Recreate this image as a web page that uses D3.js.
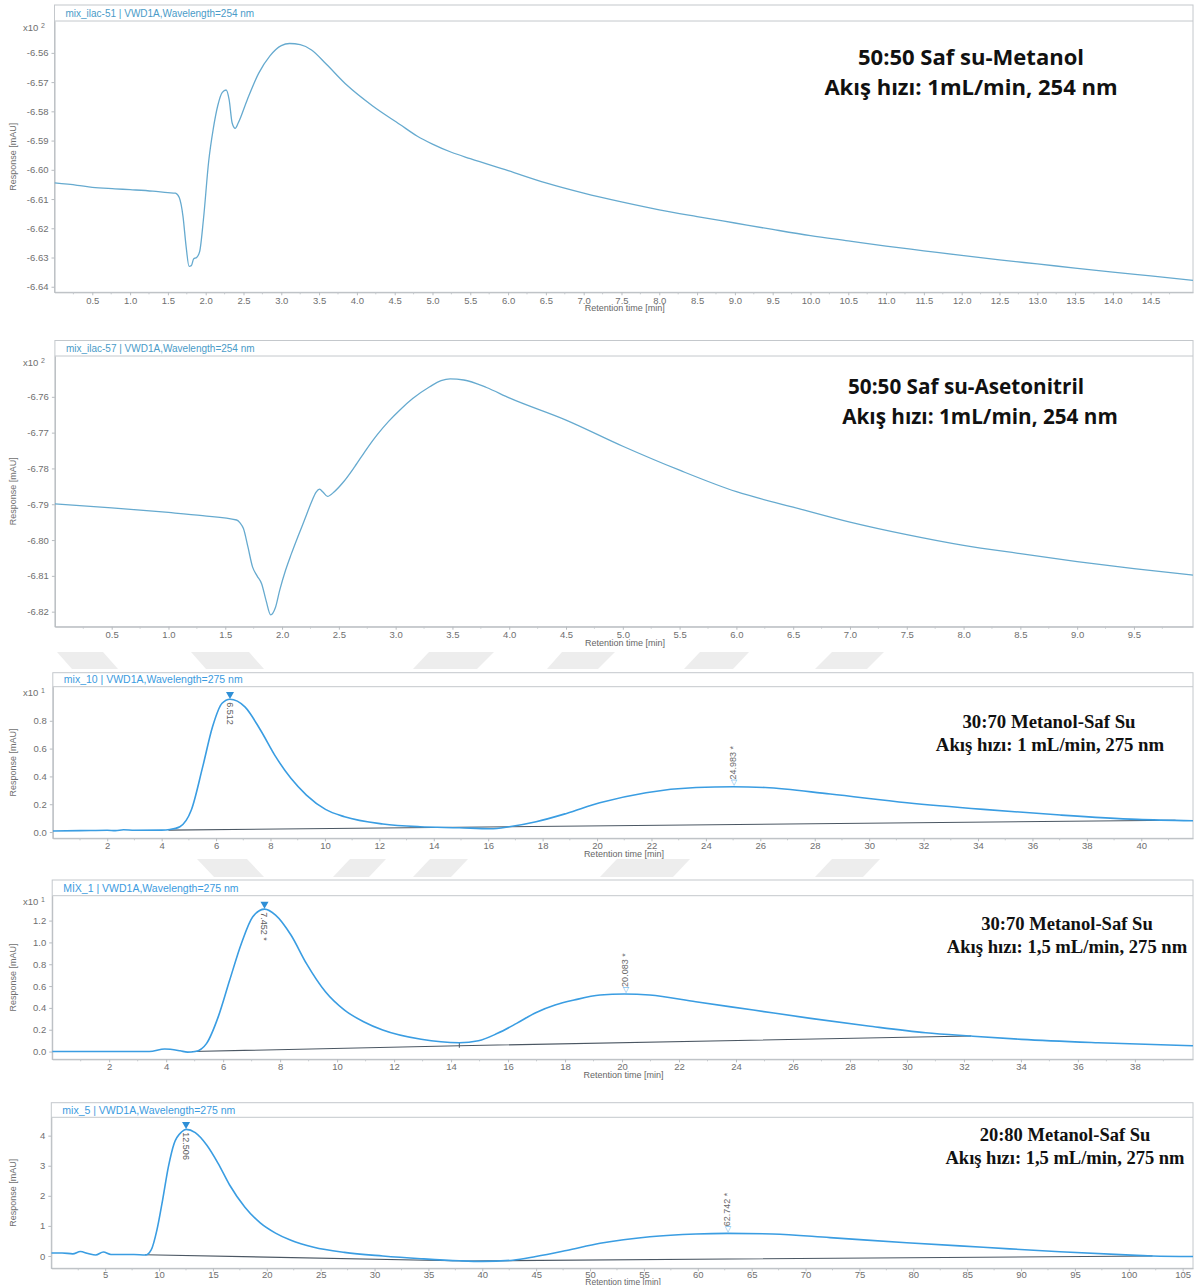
<!DOCTYPE html>
<html>
<head>
<meta charset="utf-8">
<script src="https://cdn.jsdelivr.net/npm/d3@7"></script>
<style>
  body { margin: 0; background: #fff; }
  svg { display: block; }
</style>
</head>
<body>
<svg id="fig" width="1201" height="1285"></svg>
<script>
// ---------- Run 1: mix_ilac-51, 50:50 water-methanol, 254 nm (x10^2 mAU) ----------
const run1Time = [0, 0.3, 0.5, 0.8, 1.0, 1.3, 1.5, 1.6, 1.65, 1.7, 1.74, 1.78, 1.81, 1.84, 1.88, 1.92, 1.97,
  2.04, 2.1, 2.16, 2.22, 2.27, 2.31, 2.35, 2.39, 2.43, 2.55, 2.7, 2.85, 3.0, 3.11, 3.25, 3.4, 3.6, 3.87,
  4.2, 4.57, 4.8, 5.0, 5.25, 5.5, 6.0, 6.5, 7.0, 7.5, 8.0, 8.5, 9.0, 9.5, 10.0, 10.5, 11.0, 11.5, 12.0,
  12.5, 13.0, 13.5, 14.0, 14.5, 15.06];
const run1Resp = [-6.6045, -6.6053, -6.6060, -6.6065, -6.6068, -6.6073, -6.6078, -6.6080, -6.6095, -6.6160,
  -6.6260, -6.6330, -6.6328, -6.6305, -6.6300, -6.6280, -6.6170, -6.5970, -6.5860, -6.5780, -6.5735,
  -6.5727, -6.5760, -6.5840, -6.5858, -6.5840, -6.5760, -6.5670, -6.5610, -6.5575, -6.5568, -6.5572,
  -6.5590, -6.5640, -6.5711, -6.5780, -6.5845, -6.5885, -6.5912, -6.5940, -6.5962, -6.6003, -6.6045,
  -6.6080, -6.6110, -6.6137, -6.6160, -6.6182, -6.6204, -6.6225, -6.6243, -6.6261, -6.6277, -6.6293,
  -6.6308, -6.6322, -6.6336, -6.6350, -6.6363, -6.6378];
const run1YTicks = [-6.64, -6.63, -6.62, -6.61, -6.60, -6.59, -6.58, -6.57, -6.56];
const run1XTicks = [0.5, 1.0, 1.5, 2.0, 2.5, 3.0, 3.5, 4.0, 4.5, 5.0, 5.5, 6.0, 6.5, 7.0, 7.5, 8.0, 8.5,
  9.0, 9.5, 10.0, 10.5, 11.0, 11.5, 12.0, 12.5, 13.0, 13.5, 14.0, 14.5];

// ---------- Run 2: mix_ilac-57, 50:50 water-acetonitrile, 254 nm (x10^2 mAU) ----------
const run2Time = [0, 0.5, 1.0, 1.3, 1.6, 1.63, 1.66, 1.70, 1.74, 1.78, 1.82, 1.86, 1.90, 1.94, 1.98, 2.03,
  2.08, 2.14, 2.2, 2.26, 2.30, 2.33, 2.36, 2.40, 2.46, 2.54, 2.64, 2.74, 2.84, 2.94, 3.04, 3.15, 3.3, 3.4,
  3.48, 3.6, 3.8, 4.0, 4.5, 5.0, 5.5, 6.0, 6.5, 7.0, 7.5, 8.0, 8.5, 9.0, 9.5, 10.02];
const run2Resp = [-6.7899, -6.7910, -6.7923, -6.7932, -6.7944, -6.7952, -6.7968, -6.8020, -6.8075, -6.8100,
  -6.8122, -6.8170, -6.8209, -6.8190, -6.8139, -6.8085, -6.8040, -6.7990, -6.7942, -6.7893, -6.7866,
  -6.7858, -6.7866, -6.7878, -6.7865, -6.7838, -6.7795, -6.7748, -6.7705, -6.7668, -6.7636, -6.7605,
  -6.7572, -6.7555, -6.7550, -6.7553, -6.7574, -6.7603, -6.7665, -6.7738, -6.7805, -6.7865, -6.7908,
  -6.7950, -6.7985, -6.8015, -6.8038, -6.8060, -6.8080, -6.8098];
const run2YTicks = [-6.82, -6.81, -6.80, -6.79, -6.78, -6.77, -6.76];
const run2XTicks = [0.5, 1.0, 1.5, 2.0, 2.5, 3.0, 3.5, 4.0, 4.5, 5.0, 5.5, 6.0, 6.5, 7.0, 7.5, 8.0, 8.5,
  9.0, 9.5];

// ---------- Run 3: mix_10, 30:70 methanol-water, 1 mL/min, 275 nm (x10^1 mAU) ----------
const run3Time = [0, 1, 2, 2.3, 2.6, 3, 4, 4.3, 4.67, 5.09, 5.51, 5.87, 6.22, 6.51, 7.06, 7.63, 8.19, 8.75,
  9.32, 10.02, 10.72, 12.13, 13.5, 14.94, 16.07, 16.77, 17.76, 18.88, 20.1, 21.8, 23.64, 25.0, 26.18,
  28.57, 31.39, 34.2, 37.03, 39.85, 41.9];
const run3Resp = [0.008, 0.010, 0.013, 0.010, 0.016, 0.013, 0.014, 0.018, 0.038, 0.158, 0.47, 0.757, 0.926,
  0.955, 0.900, 0.734, 0.542, 0.386, 0.266, 0.163, 0.110, 0.058, 0.038, 0.031, 0.024, 0.038, 0.074,
  0.134, 0.210, 0.283, 0.320, 0.326, 0.320, 0.273, 0.211, 0.163, 0.122, 0.091, 0.081];
const run3Baseline = [[4.25, 0.014], [41.26, 0.085]];
const run3Peaks = [{ time: 6.512, label: "6.512", apex: true }, { time: 24.983, label: "24.983 *", apex: false }];
const run3YTicks = [0.0, 0.2, 0.4, 0.6, 0.8];
const run3XTicks = [2, 4, 6, 8, 10, 12, 14, 16, 18, 20, 22, 24, 26, 28, 30, 32, 34, 36, 38, 40];

// ---------- Run 4: MIX_1, 30:70 methanol-water, 1.5 mL/min, 275 nm (x10^1 mAU) ----------
const run4Time = [0, 3.41, 3.95, 4.49, 4.75, 5.02, 5.42, 5.83, 6.23, 6.64, 7.04, 7.45, 7.84, 8.38, 8.92, 9.59,
  10.26, 10.93, 11.6, 12.95, 14.29, 14.96, 15.63, 16.3, 16.97, 17.65, 18.32, 19.23, 20.08, 20.97, 22.59,
  24.61, 26.62, 28.64, 30.66, 32.25, 34.02, 36.71, 40.04];
const run4Resp = [0.0, 0.0, 0.023, 0.007, -0.005, 0.0, 0.075, 0.32, 0.655, 0.99, 1.235, 1.305, 1.251, 1.068,
  0.808, 0.548, 0.380, 0.273, 0.197, 0.112, 0.081, 0.099, 0.167, 0.258, 0.356, 0.426, 0.472, 0.518,
  0.527, 0.518, 0.456, 0.380, 0.304, 0.234, 0.172, 0.142, 0.112, 0.081, 0.053];
const run4Baseline = [[4.9, 0.0], [14.29, 0.053], [32.25, 0.142]];
const run4Peaks = [{ time: 7.452, label: "7.452 *", apex: true }, { time: 20.083, label: "20.083 *", apex: false }];
const run4YTicks = [0.0, 0.2, 0.4, 0.6, 0.8, 1.0, 1.2];
const run4XTicks = [2, 4, 6, 8, 10, 12, 14, 16, 18, 20, 22, 24, 26, 28, 30, 32, 34, 36, 38];

// ---------- Run 5: mix_5, 20:80 methanol-water, 1.5 mL/min, 275 nm (mAU) ----------
const run5Time = [0, 1.0, 1.99, 2.7, 3.41, 4.12, 4.83, 5.54, 7.67, 8.74, 9.27, 9.8, 10.33, 10.87, 11.4, 12.11,
  12.51, 13.36, 14.42, 15.48, 16.55, 17.97, 19.39, 20.81, 22.24, 24.36, 27.2, 30.76, 34.31, 37.87, 40.0,
  42.84, 44.97, 47.81, 50.93, 55.55, 59.82, 62.74, 66.94, 72.27, 79.39, 86.5, 93.62, 100.73, 102.2, 105.96];
const run5Resp = [0.10, 0.10, 0.07, 0.15, 0.08, 0.03, 0.13, 0.05, 0.05, 0.03, 0.20, 0.86, 1.86, 2.97, 3.74,
  4.13, 4.21, 4.10, 3.69, 3.08, 2.36, 1.62, 1.10, 0.76, 0.52, 0.29, 0.12, 0.0, -0.09, -0.16, -0.18,
  -0.14, -0.02, 0.18, 0.42, 0.64, 0.73, 0.75, 0.73, 0.61, 0.44, 0.29, 0.14, 0.02, 0.0, -0.02];
const run5Baseline = [[8.7, 0.04], [38.5, -0.165], [102.2, 0.0]];
const run5Peaks = [{ time: 12.506, label: "12.506", apex: true }, { time: 62.742, label: "62.742 *", apex: false }];
const run5YTicks = [0, 1, 2, 3, 4];
const run5XTicks = [5, 10, 15, 20, 25, 30, 35, 40, 45, 50, 55, 60, 65, 70, 75, 80, 85, 90, 95, 100, 105];

// ---------- panel layout ----------
// note rows: [text, centre x, baseline y, fitted width]
const panels = [
  { time: run1Time, resp: run1Resp, yTicks: run1YTicks, xTicks: run1XTicks, yFmt: d3.format(".2f"), xFmt: d3.format(".1f"),
    xDomain: [0, 15.06], yDomain: [-6.6419, -6.5491], left: 54.5, right: 1193, headerTop: 5, headerBottom: 21, axisY: 292.3,
    header: "mix_ilac-51 | VWD1A,Wavelength=254 nm", exp: "2", style: "old", titleDy: 19, labelPad: 1.5,
    note: [["50:50 Saf su-Metanol", 971, 65, 228], ["Akış hızı: 1mL/min, 254 nm", 971, 95, 291]] },
  { time: run2Time, resp: run2Resp, yTicks: run2YTicks, xTicks: run2XTicks, yFmt: d3.format(".2f"), xFmt: d3.format(".1f"),
    xDomain: [0, 10.02], yDomain: [-6.8242, -6.7486], left: 54.9, right: 1193, headerTop: 340.5, headerBottom: 356, axisY: 626.7,
    header: "mix_ilac-57 | VWD1A,Wavelength=254 nm", exp: "2", style: "old", titleDy: 19, labelPad: 1.5,
    note: [["50:50 Saf su-Asetonitril", 966, 394, 223], ["Akış hızı: 1mL/min, 254 nm", 980, 424, 291]] },
  { time: run3Time, resp: run3Resp, yTicks: run3YTicks, xTicks: run3XTicks, yFmt: d3.format(".1f"), xFmt: d3.format("d"),
    xDomain: [0, 41.9], yDomain: [-0.045, 1.045], left: 52.8, right: 1193, headerTop: 672.7, headerBottom: 686.7, axisY: 838.3,
    header: "mix_10 | VWD1A,Wavelength=275 nm", exp: "1", style: "new", baseline: run3Baseline, peaks: run3Peaks,
    titleDy: 19, labelPad: 0.5,
    note: [["30:70 Metanol-Saf Su", 1049, 727.5, 175], ["Akış hızı: 1 mL/min, 275 nm", 1050, 750.5, 226]] },
  { time: run4Time, resp: run4Resp, yTicks: run4YTicks, xTicks: run4XTicks, yFmt: d3.format(".1f"), xFmt: d3.format("d"),
    xDomain: [0, 40.04], yDomain: [-0.071, 1.428], left: 52.2, right: 1193, headerTop: 880, headerBottom: 895.7, axisY: 1059.3,
    header: "MİX_1 | VWD1A,Wavelength=275 nm", exp: "1", style: "new", baseline: run4Baseline, peaks: run4Peaks, dropAt: 14.29,
    titleDy: 19, labelPad: 0.5,
    note: [["30:70 Metanol-Saf Su", 1067, 929.5, 172], ["Akış hızı: 1,5 mL/min, 275 nm", 1067, 952.5, 240]] },
  { time: run5Time, resp: run5Resp, yTicks: run5YTicks, xTicks: run5XTicks, yFmt: d3.format("d"), xFmt: d3.format("d"),
    xDomain: [0, 105.96], yDomain: [-0.41, 4.61], left: 51.3, right: 1193, headerTop: 1102.7, headerBottom: 1117.3, axisY: 1268.3,
    header: "mix_5 | VWD1A,Wavelength=275 nm", exp: null, style: "new", baseline: run5Baseline, peaks: run5Peaks,
    titleDy: 16.4, labelPad: 0, titleSize: 8.5,
    note: [["20:80 Metanol-Saf Su", 1065, 1140.5, 170], ["Akış hızı: 1,5 mL/min, 275 nm", 1065, 1163.5, 240]] }
];

const svg = d3.select("#fig");
const SANS = "'Liberation Sans', Arial, sans-serif";

// faint chevron band behind the figure
const chevrons = [
  [[57, 652], [103, 652], [118, 669], [72, 669]],
  [[191, 652], [249, 652], [264, 669], [206, 669]],
  [[429, 652], [494, 652], [477, 669], [413, 669]],
  [[562, 652], [615, 652], [598, 669], [547, 669]],
  [[700, 652], [749, 652], [733, 669], [684, 669]],
  [[832, 652], [884, 652], [867, 669], [815, 669]],
  [[197, 859], [247, 859], [264, 877], [214, 877]],
  [[350, 859], [386, 859], [369, 877], [333, 877]],
  [[430, 859], [468, 859], [451, 877], [413, 877]],
  [[617, 859], [690, 859], [673, 877], [600, 877]],
  [[832, 859], [880, 859], [863, 877], [815, 877]]
];
svg.append("g").selectAll("polygon").data(chevrons).join("polygon")
  .attr("points", d => d.map(p => p.join(",")).join(" "))
  .attr("fill", "#ededed");

// linear interpolation along a trace
function valueAt(times, resp, t) {
  const i = Math.max(1, Math.min(times.length - 1, d3.bisectLeft(times, t)));
  const t0 = times[i - 1], t1 = times[i];
  const f = (t - t0) / (t1 - t0);
  return resp[i - 1] + f * (resp[i] - resp[i - 1]);
}

panels.forEach((p, idx) => {
  const g = svg.append("g");
  const x = d3.scaleLinear().domain(p.xDomain).range([p.left, p.right]);
  const y = d3.scaleLinear().domain(p.yDomain).range([p.axisY, p.headerBottom]);
  const isOld = p.style === "old";
  const headerColor = isOld ? "#4a9bc8" : "#3b9be0";
  const traceColor = isOld ? "#66aacf" : "#3a9de2";

  // frame with header strip
  g.append("rect")
    .attr("x", p.left).attr("y", p.headerTop)
    .attr("width", p.right - p.left).attr("height", p.axisY - p.headerTop)
    .attr("fill", "#fff").attr("stroke", "#c4c8cc").attr("stroke-width", 1);
  g.append("line")
    .attr("x1", p.left).attr("x2", p.right)
    .attr("y1", p.headerBottom).attr("y2", p.headerBottom)
    .attr("stroke", "#c4c8cc");
  g.append("text")
    .attr("x", p.left + 11).attr("y", (p.headerTop + p.headerBottom) / 2)
    .attr("dy", "0.35em")
    .attr("font-family", SANS).attr("font-size", isOld ? 10 : 10.5)
    .attr("fill", headerColor)
    .text(p.header);

  // axes
  const xAxis = d3.axisBottom(x).tickValues(p.xTicks).tickFormat(p.xFmt)
    .tickSize(3).tickSizeOuter(0).tickPadding(p.labelPad);
  const gx = g.append("g").attr("transform", `translate(0,${p.axisY})`).call(xAxis);
  const minor = [];
  const step = p.xTicks[1] - p.xTicks[0];
  for (let k = 0; p.xTicks[0] - step / 2 + k * step <= p.xDomain[1]; k++) {
    const v = p.xTicks[0] - step / 2 + k * step;
    if (v > p.xDomain[0]) minor.push(v);
  }
  g.append("g").selectAll("line").data(minor).join("line")
    .attr("x1", d => x(d)).attr("x2", d => x(d))
    .attr("y1", p.axisY).attr("y2", p.axisY + 2)
    .attr("stroke", "#c4c8cc");

  const yAxis = d3.axisLeft(y).tickValues(p.yTicks).tickFormat(p.yFmt)
    .tickSize(3).tickSizeOuter(0).tickPadding(3);
  const gy = g.append("g").attr("transform", `translate(${p.left},0)`).call(yAxis);

  [gx, gy].forEach(a => {
    a.select(".domain").attr("stroke", "#b8bcc0");
    a.selectAll(".tick line").attr("stroke", "#b8bcc0");
    a.selectAll(".tick text").attr("fill", "#6f6f6f")
      .attr("font-family", SANS).attr("font-size", 9.5);
  });
  // plain hyphen minus signs on the response labels
  gy.selectAll(".tick text").text(function () { return this.textContent.replace("\u2212", "-"); });

  // axis titles
  g.append("text")
    .attr("x", (p.left + p.right) / 2 + 1).attr("y", p.axisY + p.titleDy)
    .attr("text-anchor", "middle")
    .attr("font-family", SANS).attr("font-size", p.titleSize || 9).attr("fill", "#666")
    .text("Retention time [min]");
  g.append("text")
    .attr("transform", `translate(16,${(p.headerBottom + p.axisY) / 2}) rotate(-90)`)
    .attr("text-anchor", "middle")
    .attr("font-family", SANS).attr("font-size", 9).attr("fill", "#6f6f6f")
    .text("Response [mAU]");
  if (p.exp) {
    const mt = g.append("text")
      .attr("x", 23).attr("y", p.headerBottom + 9.5)
      .attr("font-family", SANS).attr("font-size", 9.5).attr("fill", "#6f6f6f");
    mt.append("tspan").text("x10 ");
    mt.append("tspan").attr("font-size", 7).attr("dy", -3).text(p.exp);
  }

  // clip to plotting area
  const clipId = "clip" + idx;
  g.append("clipPath").attr("id", clipId).append("rect")
    .attr("x", p.left).attr("y", p.headerBottom + 0.5)
    .attr("width", p.right - p.left).attr("height", p.axisY - p.headerBottom - 0.5);
  const plot = g.append("g").attr("clip-path", `url(#${clipId})`);

  // integration baseline
  if (p.baseline) {
    plot.append("path")
      .datum(p.baseline)
      .attr("d", d3.line().x(d => x(d[0])).y(d => y(d[1])))
      .attr("fill", "none").attr("stroke", "#4b5763").attr("stroke-width", 1.1);
  }
  if (p.dropAt) {
    const bv = valueAt(p.baseline.map(d => d[0]), p.baseline.map(d => d[1]), p.dropAt);
    plot.append("line")
      .attr("x1", x(p.dropAt)).attr("x2", x(p.dropAt))
      .attr("y1", y(bv) - 3).attr("y2", y(bv) + 2)
      .attr("stroke", "#4b5763");
  }

  // chromatogram trace
  const pts = p.time.map((t, i) => [t, p.resp[i]]);
  plot.append("path")
    .datum(pts)
    .attr("d", d3.line().x(d => x(d[0])).y(d => y(d[1])).curve(d3.curveMonotoneX))
    .attr("fill", "none").attr("stroke", traceColor)
    .attr("stroke-width", isOld ? 1.3 : 1.6).attr("stroke-linejoin", "round");

  // peak labels
  (p.peaks || []).forEach(pk => {
    const px = x(pk.time);
    const py = y(valueAt(p.time, p.resp, pk.time));
    if (pk.apex) {
      g.append("path")
        .attr("d", d3.symbol(d3.symbolTriangle, 28)())
        .attr("transform", `translate(${px},${py - 5}) rotate(180)`)
        .attr("fill", "#2f8fd6");
      g.append("text")
        .attr("transform", `translate(${px},${py + 3}) rotate(90)`)
        .attr("dy", "0.35em")
        .attr("font-family", SANS).attr("font-size", 9).attr("fill", "#5a5a5a")
        .text(pk.label);
    } else {
      const t = g.append("text")
        .attr("transform", `translate(${px},${py - 1}) rotate(-90)`)
        .attr("dy", "0.35em")
        .attr("font-family", SANS).attr("font-size", 9);
      t.append("tspan").attr("fill", "#4aa6e6").attr("font-family", "'DejaVu Sans', sans-serif").attr("font-size", 8).text("◁");
      t.append("tspan").attr("fill", "#6a6a6a").text(pk.label);
    }
  });

  // condition notes, each panel's rows share one font size fitted to the row widths
  const family = isOld ? "'Open Sans', 'Noto Sans', sans-serif" : "'Liberation Serif', 'Times New Roman', serif";
  const base = 20;
  const rows = p.note.map(([txt, cx, cy]) => g.append("text")
    .attr("x", cx).attr("y", cy)
    .attr("text-anchor", "middle")
    .attr("font-family", family)
    .attr("font-weight", 700)
    .attr("font-size", base)
    .attr("fill", "#111")
    .text(txt));
  const ratios = rows.map((r, i) => p.note[i][3] / r.node().getComputedTextLength());
  const size = base * d3.mean(ratios);
  rows.forEach(r => r.attr("font-size", size.toFixed(2)));
});
</script>
</body>
</html>
